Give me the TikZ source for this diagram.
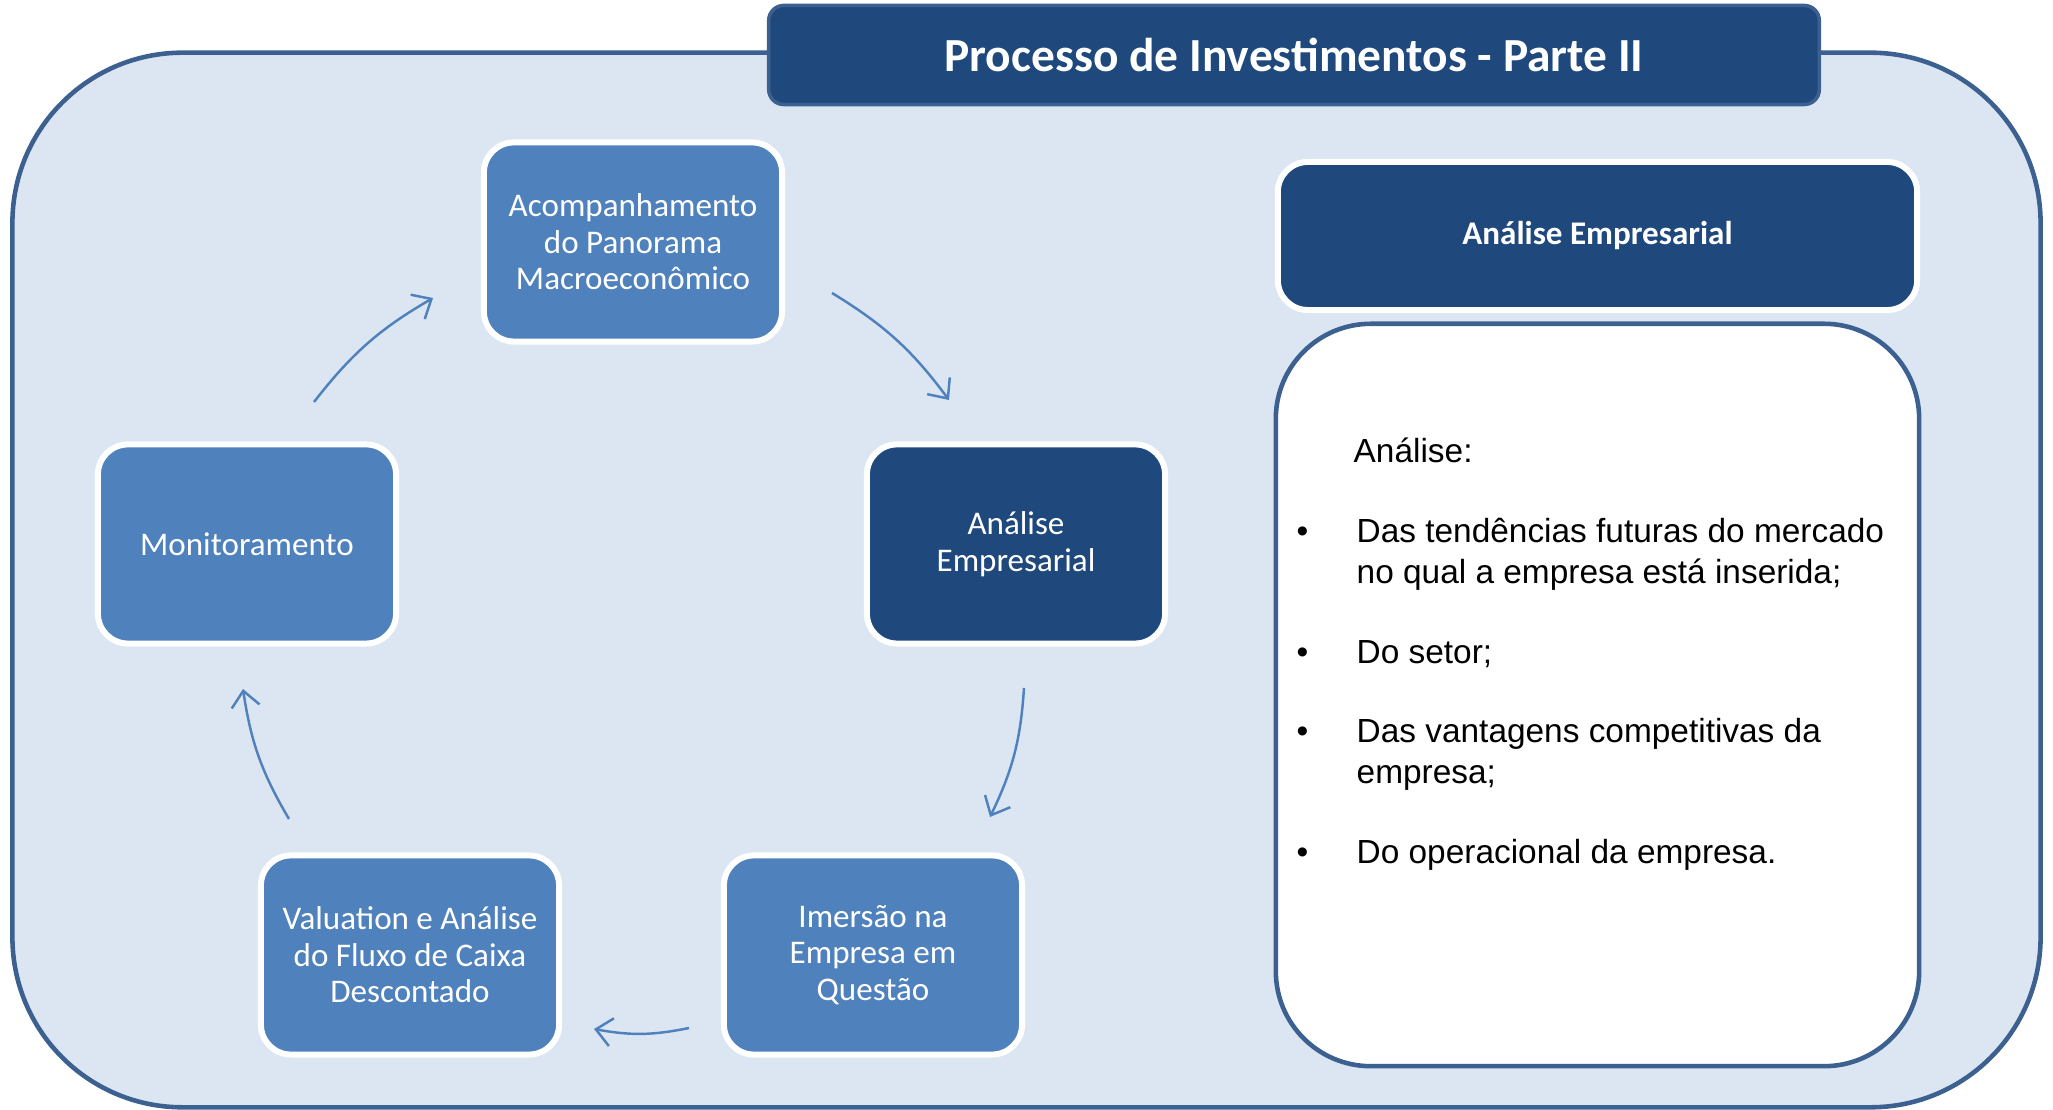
\documentclass[tikz,border=0pt]{standalone}
\usepackage{fontspec}
\setmainfont{Carlito}
\newfontfamily\listfont{Liberation Sans}
\usetikzlibrary{positioning}
\usetikzlibrary{arrows.meta}
\definecolor{paleblue}{HTML}{DCE6F2}
\definecolor{navy}{HTML}{1F497D}
\definecolor{midblue}{HTML}{4F81BD}
\definecolor{rimblue}{HTML}{3C6090}

\begin{document}
\begin{tikzpicture}[x=0.01cm, y=-0.01cm,
    stage/.style = {draw=white, line width=1.7pt, rounded corners=0.3cm, fill=midblue, text=white, minimum width=2.98cm, minimum height=1.99cm, align=center, font=\fontsize{9.4}{10.4}\selectfont},
    current/.style = {stage, fill=navy},
    flow/.style = {draw=midblue, line width=0.7pt, -{Straight Barb[length=4.5pt,width=8pt]}},
    item/.style = {anchor=base west, inner sep=0pt, font=\listfont\fontsize{9.5}{11.7}\selectfont}]
      \useasboundingbox (0,0) rectangle (2053,1110);
      \node[draw=rimblue, line width=1.3pt, fill=paleblue, rounded corners=1.7cm, minimum width=20.27cm, minimum height=10.54cm](frame) at (1026.5,580){};
      \node[draw=rimblue, line width=1pt, fill=navy, rounded corners=0.15cm, minimum width=10.5cm, minimum height=0.99cm, text=white, font=\fontsize{13.5}{16}\bfseries\selectfont](title) at (1294,55){Processo de Investimentos - Parte II};
      % ciclo
      \node[stage](acomp) at (633,242){Acompanhamento\\do Panorama\\Macroeconômico};
      \node[current](empres) at (1016,544){Análise\\Empresarial};
      \node[stage](imersao) at (873,955){Imersão na\\Empresa em\\Questão};
      \node[stage](valuation) at (410,955){Valuation e Análise\\do Fluxo de Caixa\\Descontado};
      \node[stage](monit) at (247,544){Monitoramento};
      \coordinate (s1) at (314,402);  \coordinate (e1) at (433,298);
      \coordinate (s2) at (832,293);  \coordinate (e2) at (949,400);
      \coordinate (s3) at (1024,688); \coordinate (e3) at (990,817);
      \coordinate (s4) at (689,1028); \coordinate (e4) at (594,1029);
      \coordinate (s5) at (289,819);  \coordinate (e5) at (243,689);
      \draw[flow] (s1) to[bend left=11] (e1);
      \draw[flow] (s2) to[bend left=11] (e2);
      \draw[flow] (s3) to[bend left=11] (e3);
      \draw[flow] (s4) to[bend left=11] (e4);
      \draw[flow] (s5) to[bend left=11] (e5);
      % detalhe
      \node[draw=white, line width=1.7pt, fill=navy, rounded corners=0.3cm, minimum width=6.39cm, minimum height=1.48cm, text=white, font=\fontsize{9.4}{11}\bfseries\selectfont](head) at (1597.5,236){Análise Empresarial};
      \node[draw=rimblue, line width=1.3pt, fill=white, rounded corners=0.95cm, minimum width=6.43cm, minimum height=7.42cm](card) at (1597.5,695){};
      \node[item](lead) at (1353,463){Análise:};
      \node[item](d1) at (1296,543){•};
      \node[item](t1) at (1356,543){Das tendências futuras do mercado};
      \node[item](t1b) at (1356,584){no qual a empresa está inserida;};
      \node[item](d2) at (1296,664){•};
      \node[item](t2) at (1356,664){Do setor;};
      \node[item](d3) at (1296,743){•};
      \node[item](t3) at (1356,743){Das vantagens competitivas da};
      \node[item](t3b) at (1356,784){empresa;};
      \node[item](d4) at (1296,864){•};
      \node[item](t4) at (1356,864){Do operacional da empresa.};
\end{tikzpicture}
\end{document}
